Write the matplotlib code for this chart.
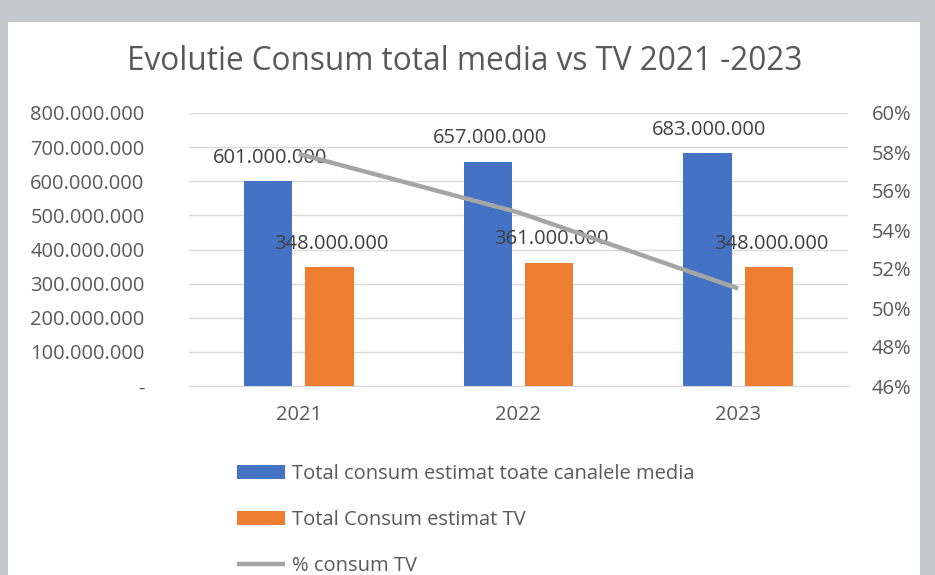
import matplotlib.pyplot as plt
import matplotlib.ticker as mticker
from matplotlib.patches import Rectangle
import numpy as np

plt.rcParams['font.family'] = ['Open Sans', 'DejaVu Sans']

# date
years = ['2021', '2022', '2023']
total_media = [601000000, 657000000, 683000000]
total_tv = [348000000, 361000000, 348000000]
pct_tv = [57.9, 54.9, 51.0]

blue = '#4472c4'
orange = '#ed7d31'
grey_line = '#a5a5a5'
txt = '#595959'
fs = 14.5


def fmt_dots(v, pos=None):
    if v == 0:
        return '-'
    return f'{int(v):,}'.replace(',', '.')


fig = plt.figure(figsize=(9.35, 5.75), dpi=100, facecolor='#c5c8cc')
# panou alb
fig.add_artist(Rectangle((8 / 935, 0), 912 / 935, 553 / 575,
                         transform=fig.transFigure, facecolor='white',
                         edgecolor='none', zorder=-10))

ax = fig.add_axes([189 / 935, 1 - 386 / 575, 659 / 935, 273 / 575])
ax.set_facecolor('none')
x = np.arange(len(years))
w = 0.22
off = 0.14
b1 = ax.bar(x - off, total_media, w, color=blue, zorder=3,
            label='Total consum estimat toate canalele media')
b2 = ax.bar(x + off, total_tv, w, color=orange, zorder=3,
            label='Total Consum estimat TV')
ax.set_xlim(-0.5, 2.5)
ax.set_ylim(0, 800000000)
ax.set_yticks(np.arange(0, 800000001, 100000000))
ax.yaxis.set_major_formatter(mticker.FuncFormatter(fmt_dots))
ax.grid(axis='y', color='#d9d9d9', linewidth=1, zorder=0)
for s in ax.spines.values():
    s.set_visible(False)
ax.spines['bottom'].set_visible(True)
ax.spines['bottom'].set_color('#d9d9d9')
ax.tick_params(axis='y', length=0, pad=32, labelsize=fs, labelcolor=txt)
ax.tick_params(axis='x', length=0, pad=14, labelsize=fs, labelcolor=txt)
ax.set_xticks(x)
ax.set_xticklabels(years)

for bars in (b1, b2):
    for r in bars:
        ax.annotate(fmt_dots(r.get_height()),
                    (r.get_x() + r.get_width() / 2, r.get_height()),
                    xytext=(1.5, 16.8), textcoords='offset points',
                    ha='center', va='center', fontsize=fs, color='#404040',
                    zorder=5)

ax2 = ax.twinx()
ax2.plot(x, pct_tv, color=grey_line, linewidth=3.2, zorder=4,
         label='% consum TV', solid_capstyle='butt')
ax2.set_ylim(46, 60)
ax2.set_yticks(np.arange(46, 61, 2))
ax2.yaxis.set_major_formatter(mticker.FuncFormatter(lambda v, p: f'{int(v)}%'))
for s in ax2.spines.values():
    s.set_visible(False)
ax2.tick_params(axis='y', length=0, pad=17, labelsize=fs, labelcolor=txt)

fig.text(465 / 935, 1 - 61 / 575, 'Evolutie Consum total media vs TV 2021 -2023',
         ha='center', va='center', fontsize=22.7, color=txt)

h1, l1 = ax.get_legend_handles_labels()
h2, l2 = ax2.get_legend_handles_labels()
leg = fig.legend(h1 + h2, l1 + l2, loc='upper left',
                 bbox_to_anchor=(229 / 935, 1 - 456 / 575), frameon=False,
                 fontsize=fs, handlelength=2.4, handletextpad=0.35,
                 labelspacing=1.28, labelcolor=txt, borderaxespad=0)

fig.savefig('out.png', dpi=100, facecolor=fig.get_facecolor())
